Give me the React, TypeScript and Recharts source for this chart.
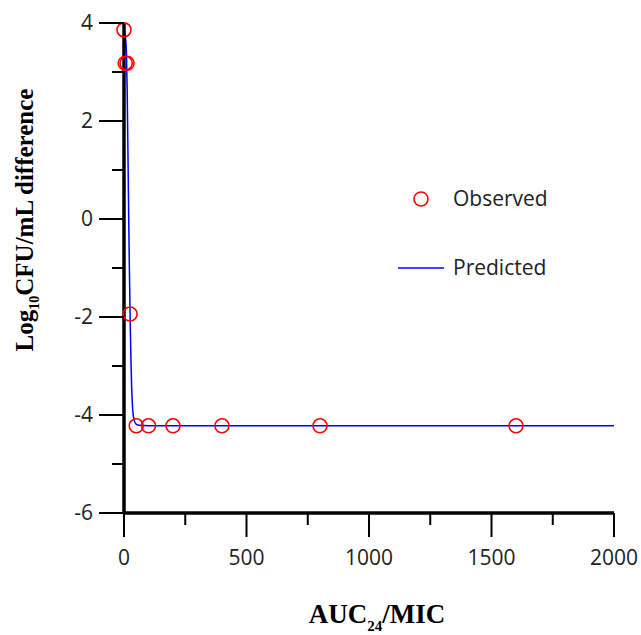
import React from 'react'
import {
  ComposedChart,
  Scatter,
  Line,
  XAxis,
  YAxis,
  Legend,
} from 'recharts'

// observed points (AUC24/MIC vs log10 CFU/mL change)
const obsAuc = [0, 5, 12.5, 25, 50, 100, 200, 400, 800, 1600]
const obsLog = [3.86, 3.18, 3.18, -1.94, -4.22, -4.22, -4.22, -4.22, -4.22, -4.22]

// fitted curve
const predAuc = [0, 6, 10, 13, 16, 19, 22, 25, 28, 31, 35, 40, 48, 60, 100, 500, 1000, 2000]
const predLog = [3.9, 3.7, 3.4, 2.6, 1.4, 0.1, -1.0, -2.0, -2.8, -3.4, -3.85, -4.08, -4.18, -4.21, -4.22, -4.22, -4.22, -4.22]

const xTicks = [0, 250, 500, 750, 1000, 1250, 1500, 1750, 2000]
const yTicks = [-6, -5, -4, -3, -2, -1, 0, 1, 2, 3, 4]

const observed = obsAuc.map((x, i) => ({ x, y: obsLog[i] }))
const predicted = predAuc.map((x, i) => ({ x, y: predLog[i] }))

const TICK_FONT = '"Open Sans", "Noto Sans", sans-serif'
const TITLE_FONT = '"Liberation Serif", "Times New Roman", serif'

function XTick(props: any) {
  const { x, y, payload } = props
  const major = payload.value % 500 === 0
  return (
    <g>
      <line x1={x} x2={x} y1={y} y2={y + (major ? 24 : 12)} stroke="#000" strokeWidth={2} />
      {major && (
        <text x={x} y={y + 52} textAnchor="middle" fontSize={21} fill="#222" fontFamily={TICK_FONT}>
          {payload.value}
        </text>
      )}
    </g>
  )
}

function YTick(props: any) {
  const { x, y, payload } = props
  const major = Math.abs(payload.value) % 2 === 0
  return (
    <g>
      <line x1={x - (major ? 25 : 12)} x2={x} y1={y} y2={y} stroke="#000" strokeWidth={2} />
      {major && (
        <text x={x - 31} y={y + 7} textAnchor="end" fontSize={21} fill="#222" fontFamily={TICK_FONT}>
          {payload.value}
        </text>
      )}
    </g>
  )
}

function OpenCircle(props: any) {
  const { cx, cy } = props
  return <circle cx={cx} cy={cy} r={7} fill="none" stroke="#ff0000" strokeWidth={1.6} />
}

function YTitle() {
  return (
    <text
      transform="translate(33, 220) rotate(-90)"
      textAnchor="middle"
      fontFamily={TITLE_FONT}
      fontWeight="bold"
      fontSize={25}
      fill="#000"
    >
      Log<tspan fontSize={14} dy={6}>10</tspan>
      <tspan dy={-6}>CFU/mL difference</tspan>
    </text>
  )
}

function XTitle() {
  return (
    <text
      x={377}
      y={623}
      textAnchor="middle"
      fontFamily={TITLE_FONT}
      fontWeight="bold"
      fontSize={27}
      fill="#000"
    >
      AUC<tspan fontSize={15} dy={8}>24</tspan>
      <tspan dy={-8}>/MIC</tspan>
    </text>
  )
}

function LegendBox() {
  return (
    <svg width={210} height={110} style={{ display: 'block' }}>
      <circle cx={31} cy={19} r={7} fill="none" stroke="#ff0000" strokeWidth={1.6} />
      <text x={63} y={26} fontSize={21} fill="#222" fontFamily={TICK_FONT}>Observed</text>
      <line x1={8} x2={54} y1={88} y2={88} stroke="#0000ff" strokeWidth={1.5} />
      <text x={63} y={95} fontSize={21} fill="#222" fontFamily={TICK_FONT}>Predicted</text>
    </svg>
  )
}

export default function App() {
  return (
    <div style={{ position: 'absolute', left: 0, top: 0, background: '#fff' }}>
      <ComposedChart width={641} height={635} margin={{ top: 23, right: 27, bottom: 62, left: 64 }}>
        <XAxis
          dataKey="x"
          type="number"
          domain={[0, 2000]}
          ticks={xTicks}
          interval={0}
          height={60}
          tickSize={0}
          tickMargin={0}
          tickLine={false}
          axisLine={{ stroke: '#000', strokeWidth: 3.5 }}
          tick={<XTick />}
          label={<XTitle />}
        />
        <YAxis
          dataKey="y"
          type="number"
          domain={[-6, 4]}
          ticks={yTicks}
          interval={0}
          width={60}
          tickSize={0}
          tickMargin={0}
          tickLine={false}
          axisLine={{ stroke: '#000', strokeWidth: 3.5 }}
          tick={<YTick />}
          label={<YTitle />}
        />
        <Legend
          layout="vertical"
          align="center"
          verticalAlign="middle"
          content={<LegendBox />}
          wrapperStyle={{ left: 390, top: 180, width: 210 }}
        />
        <Line
          data={predicted}
          dataKey="y"
          type="monotone"
          stroke="#0000ff"
          strokeWidth={1.5}
          dot={false}
          isAnimationActive={false}
        />
        <Scatter data={observed} dataKey="y" shape={<OpenCircle />} isAnimationActive={false} />
      </ComposedChart>
    </div>
  )
}
